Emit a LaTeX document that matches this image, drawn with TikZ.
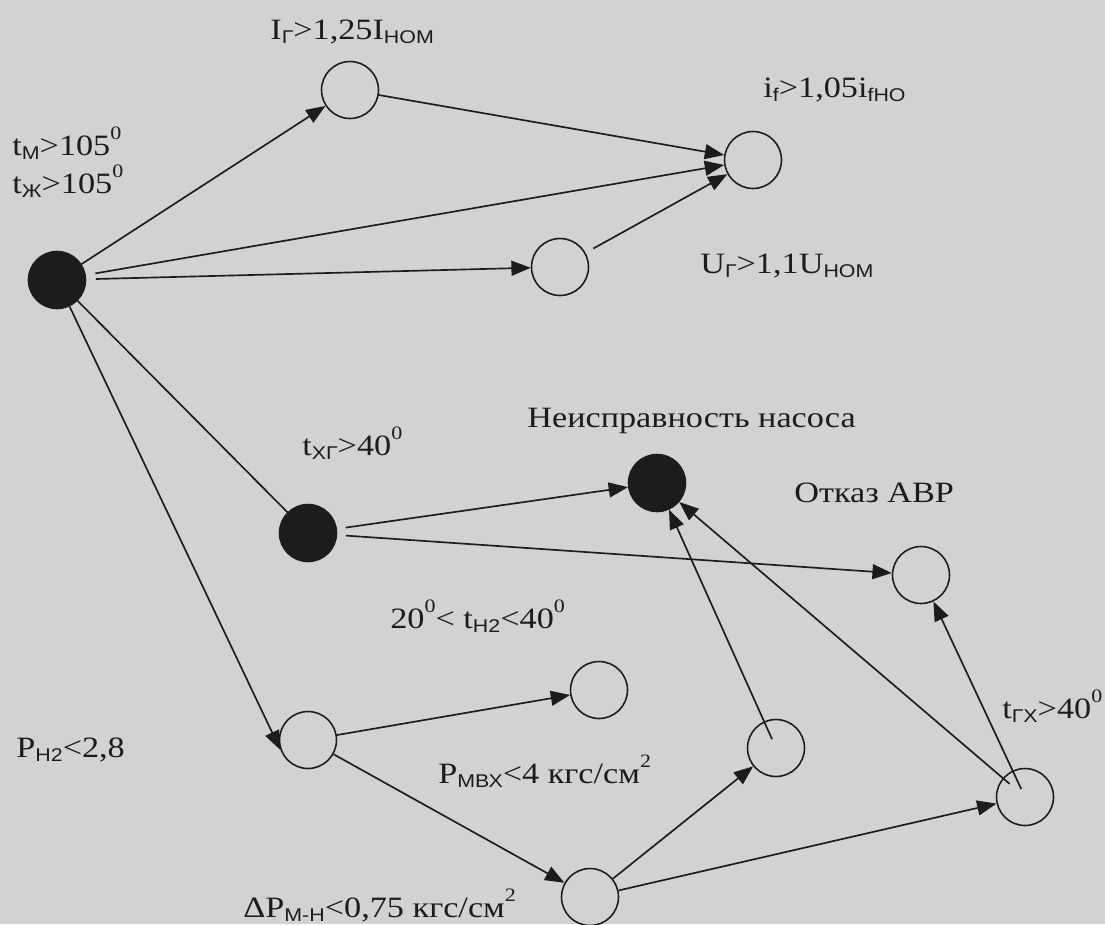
\documentclass[tikz,border=0pt]{standalone}
\usepackage{fontspec}
\setmainfont{Liberation Serif}[FakeStretch=1.16]
\setsansfont{Liberation Sans}[FakeStretch=1.16]
\usetikzlibrary{arrows.meta,calc}
\definecolor{bg}{RGB}{210,210,210}
\definecolor{ink}{RGB}{28,28,28}
\newcommand\lo[1]{\raisebox{-2.8pt}{\fontsize{10.5}{11}\sffamily #1}}
\newcommand\hi[1]{\raisebox{9pt}{\fontsize{10.8}{11}\selectfont #1}}
\begin{document}
\begin{tikzpicture}[x=0.02cm,y=-0.02cm,
  vertex/.style={circle,draw=ink,line width=0.9pt,minimum size=1.14cm,inner sep=0pt,fill=bg},
  solidvertex/.style={vertex,fill=ink},
  edge/.style={draw=ink,line width=0.95pt,-{Triangle[length=11pt,width=8.5pt]}},
  plain/.style={draw=ink,line width=0.95pt},
  lbl/.style={inner sep=0pt,anchor=base west,text=ink,font=\fontsize{16.8}{19}\selectfont}]
\fill[bg] (0,0) rectangle (1105,924);
\useasboundingbox (0,0) rectangle (1105,924);

\node[solidvertex] (A) at (57,280) {};
\node[vertex] (B) at (350,90) {};
\node[vertex] (C) at (753,160) {};
\node[vertex] (D) at (560,267) {};
\node[solidvertex] (E) at (308,533) {};
\node[solidvertex] (F) at (657,483) {};
\node[vertex] (G) at (921,575) {};
\node[vertex] (H) at (308,740) {};
\node[vertex] (I) at (599,690) {};
\node[vertex] (J) at (776,748) {};
\node[vertex] (K) at (590,897) {};
\node[vertex] (L) at (1025,797) {};

\draw[edge] (A) -- (B);
\draw[edge,shorten <=5.5pt] (A) -- (C);
\draw[edge,shorten <=5.5pt] (A) -- (D);
\draw[plain] (A) -- (E);
\draw[edge] (A) -- (H.200);
\draw[edge] (B) -- (C);
\draw[edge,shorten <=5pt] (D) -- (C);
\draw[edge,shorten <=5pt] (E) -- (F);
\draw[edge,shorten <=5pt] (E) -- (G);
\draw[edge,shorten <=5.5pt] (J.center) -- (F);
\draw[edge,shorten <=11.5pt] (L.center) -- (F);
\draw[edge,shorten <=5pt] (L.center) -- (G);
\draw[edge] (H) -- (I);
\draw[edge] (H) -- (K);
\draw[edge] (K) -- (J);
\draw[edge] (K) -- (L);

\node[lbl] (tB) at (270,39) {I\lo{Г}>1,25I\lo{НОМ}};
\node[lbl] (tC) at (763,97) {i\lo{f}>1,05i\lo{fНО}};
\node[lbl] (tD) at (700,273) {U\lo{Г}>1,1U\lo{НОМ}};
\node[lbl] (tA1) at (12,155) {t\lo{М}>105\hi{0}};
\node[lbl] (tA2) at (12,193) {t\lo{Ж}>105\hi{0}};
\node[lbl] (tE) at (302,455) {t\lo{ХГ}>40\hi{0}};
\node[lbl] (tF) at (527,427) {Неисправность насоса};
\node[lbl] (tG) at (794,502) {Отказ АВР};
\node[lbl] (tT) at (390,628) {20\hi{0}< t\lo{Н2}<40\hi{0}};
\node[lbl] (tL) at (1002,718) {t\lo{ГХ}>40\hi{0}};
\node[lbl] (tH) at (16,757) {P\lo{Н2}<2,8};
\node[lbl] (tI) at (438,783) {P\lo{МВХ}<4 кгс/см\hi{2}};
\node[lbl] (tK) at (243,917) {ΔP\lo{М-Н}<0,75 кгс/см\hi{2}};
\end{tikzpicture}
\end{document}
